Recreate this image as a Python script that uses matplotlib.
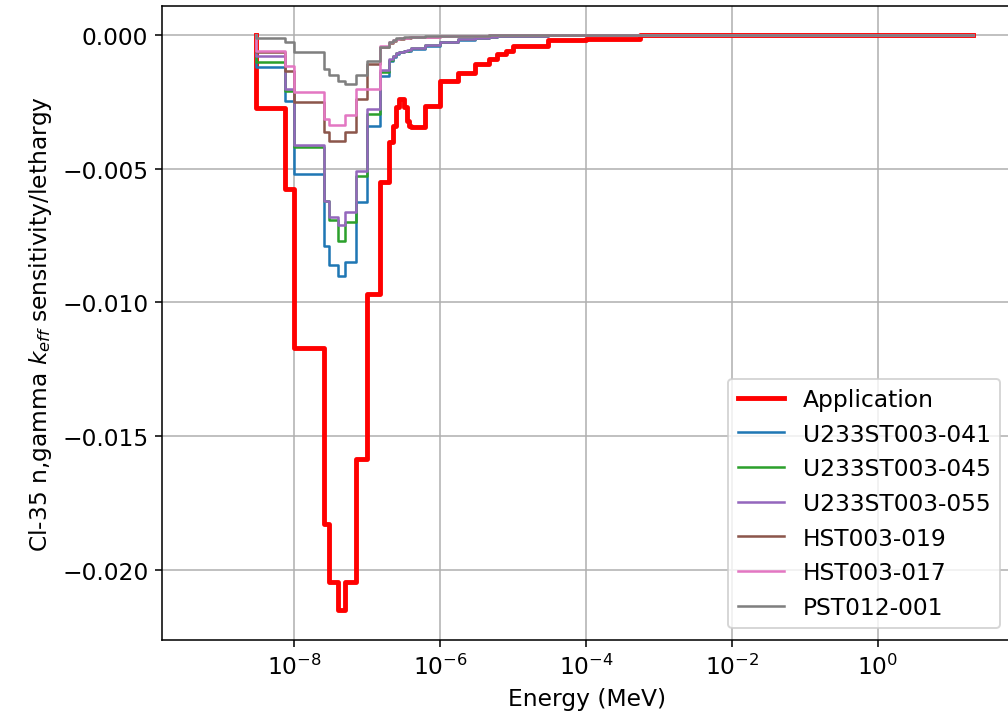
import numpy as np
import matplotlib
matplotlib.use("Agg")
import matplotlib.pyplot as plt

# group boundaries in MeV (subset of the SCALE 56-group structure)
edges = [3e-9, 4e-9, 5e-9, 7.5e-9, 1e-8, 2.53e-8, 3e-8, 4e-8, 5e-8, 7e-8,
         1e-7, 1.5e-7, 2e-7, 2.25e-7, 2.5e-7, 2.75e-7, 3.25e-7, 3.5e-7,
         3.75e-7, 4e-7, 6.25e-7, 1e-6, 1.77e-6, 3e-6, 4.75e-6, 6e-6,
         8.1e-6, 1.01e-5, 3e-5, 1e-4, 5.5e-4, 20.0]

application = [-0.00273, -0.00273, -0.00273, -0.00576, -0.0117, -0.0183,
               -0.02045, -0.0215, -0.02045, -0.01585, -0.00968, -0.0055,
               -0.0040, -0.0034, -0.0027, -0.0024, -0.0027, -0.0032,
               -0.0034, -0.00344, -0.00265, -0.00172, -0.00142, -0.00108,
               -0.0009, -0.00071, -0.0006, -0.0004, -0.0002, -0.00013,
               -0.00001]
u233_041 = [-0.00121, -0.00121, -0.00121, -0.00245, -0.0052, -0.0079,
            -0.0086, -0.0090, -0.0085, -0.00624, -0.00339, -0.00152,
            -0.00096, -0.00083, -0.0007, -0.00065, -0.0006, -0.0006,
            -0.00058, -0.00052, -0.0004, -0.00027, -0.00017, -0.0001,
            -0.00007, -0.00005, -0.00004, -0.00003, -0.00001, 0.0, 0.0]
u233_045 = [-0.0010, -0.0010, -0.0010, -0.00208, -0.0042, -0.0062,
            -0.0069, -0.0077, -0.0070, -0.00526, -0.00296, -0.0014,
            -0.00092, -0.0008, -0.00068, -0.00063, -0.00058, -0.00058,
            -0.00056, -0.0005, -0.00038, -0.00025, -0.00016, -0.0001,
            -0.00007, -0.00005, -0.00004, -0.00003, -0.00001, 0.0, 0.0]
u233_055 = [-0.00077, -0.00077, -0.00077, -0.0020, -0.0041, -0.0062,
            -0.0068, -0.0071, -0.0066, -0.00507, -0.00277, -0.0013,
            -0.0009, -0.0008, -0.00068, -0.00062, -0.00058, -0.00057,
            -0.00055, -0.0005, -0.00038, -0.00025, -0.00016, -0.0001,
            -0.00007, -0.00005, -0.00004, -0.00003, -0.00001, 0.0, 0.0]
hst_019 = [-0.00065, -0.00065, -0.00065, -0.00133, -0.0025, -0.00363,
           -0.00395, -0.00395, -0.00363, -0.0024, -0.0011, -0.00045,
           -0.0003, -0.00022, -0.00016, -0.00013, -0.00011, -0.0001,
           -0.0001, -0.00009, -0.00007, -0.00005, -0.00003, -0.00002,
           -0.00001, -0.00001, 0.0, 0.0, 0.0, 0.0, 0.0]
hst_017 = [-0.00059, -0.00059, -0.00059, -0.00115, -0.00214, -0.00314,
           -0.00337, -0.00337, -0.0030, -0.0020, -0.0020, -0.0004,
           -0.00026, -0.0002, -0.00015, -0.00012, -0.0001, -0.0001,
           -0.00009, -0.00008, -0.00006, -0.00004, -0.00003, -0.00002,
           -0.00001, -0.00001, 0.0, 0.0, 0.0, 0.0, 0.0]
pst_001 = [-0.0001, -0.0001, -0.0001, -0.00026, -0.00064, -0.00127,
           -0.0015, -0.00172, -0.00183, -0.0015, -0.00096, -0.00045,
           -0.00025, -0.00018, -0.00012, -0.0001, -0.00009, -0.00008,
           -0.00007, -0.00006, -0.00005, -0.00004, -0.00003, -0.00002,
           -0.00001, -0.00001, 0.0, 0.0, 0.0, 0.0, 0.0]

xticks = [1e-8, 1e-6, 1e-4, 1e-2, 1e0]

series = [
    ("Application", application, "red", 2.5),
    ("U233ST003-041", u233_041, "C0", 1.3),
    ("U233ST003-045", u233_045, "C2", 1.3),
    ("U233ST003-055", u233_055, "C4", 1.3),
    ("HST003-019", hst_019, "C5", 1.3),
    ("HST003-017", hst_017, "C6", 1.3),
    ("PST012-001", pst_001, "C7", 1.3),
]

plt.rcParams["font.size"] = 12
fig = plt.figure(figsize=(7.2, 5.107), dpi=140)
ax = fig.add_axes([0.1607, 0.1035, 0.8433, 0.8865])

for name, vals, col, lw in series:
    x = [edges[0]] + edges
    y = [0.0] + vals + [vals[-1]]
    ax.step(x, y, where="post", color=col, lw=lw, label=name)

ax.set_xscale("log")
ax.set_xlim(10 ** -9.81, 10 ** 1.836)
ax.set_ylim(-0.02262, 0.00108)
ax.set_xticks(xticks)
ax.xaxis.set_minor_locator(matplotlib.ticker.NullLocator())
ax.grid(True)
ax.set_xlabel("Energy (MeV)")
ax.set_ylabel("Cl-35 n,gamma $k_{eff}$ sensitivity/lethargy")
ax.legend(loc="lower right")

fig.savefig("out.png", dpi=140)
